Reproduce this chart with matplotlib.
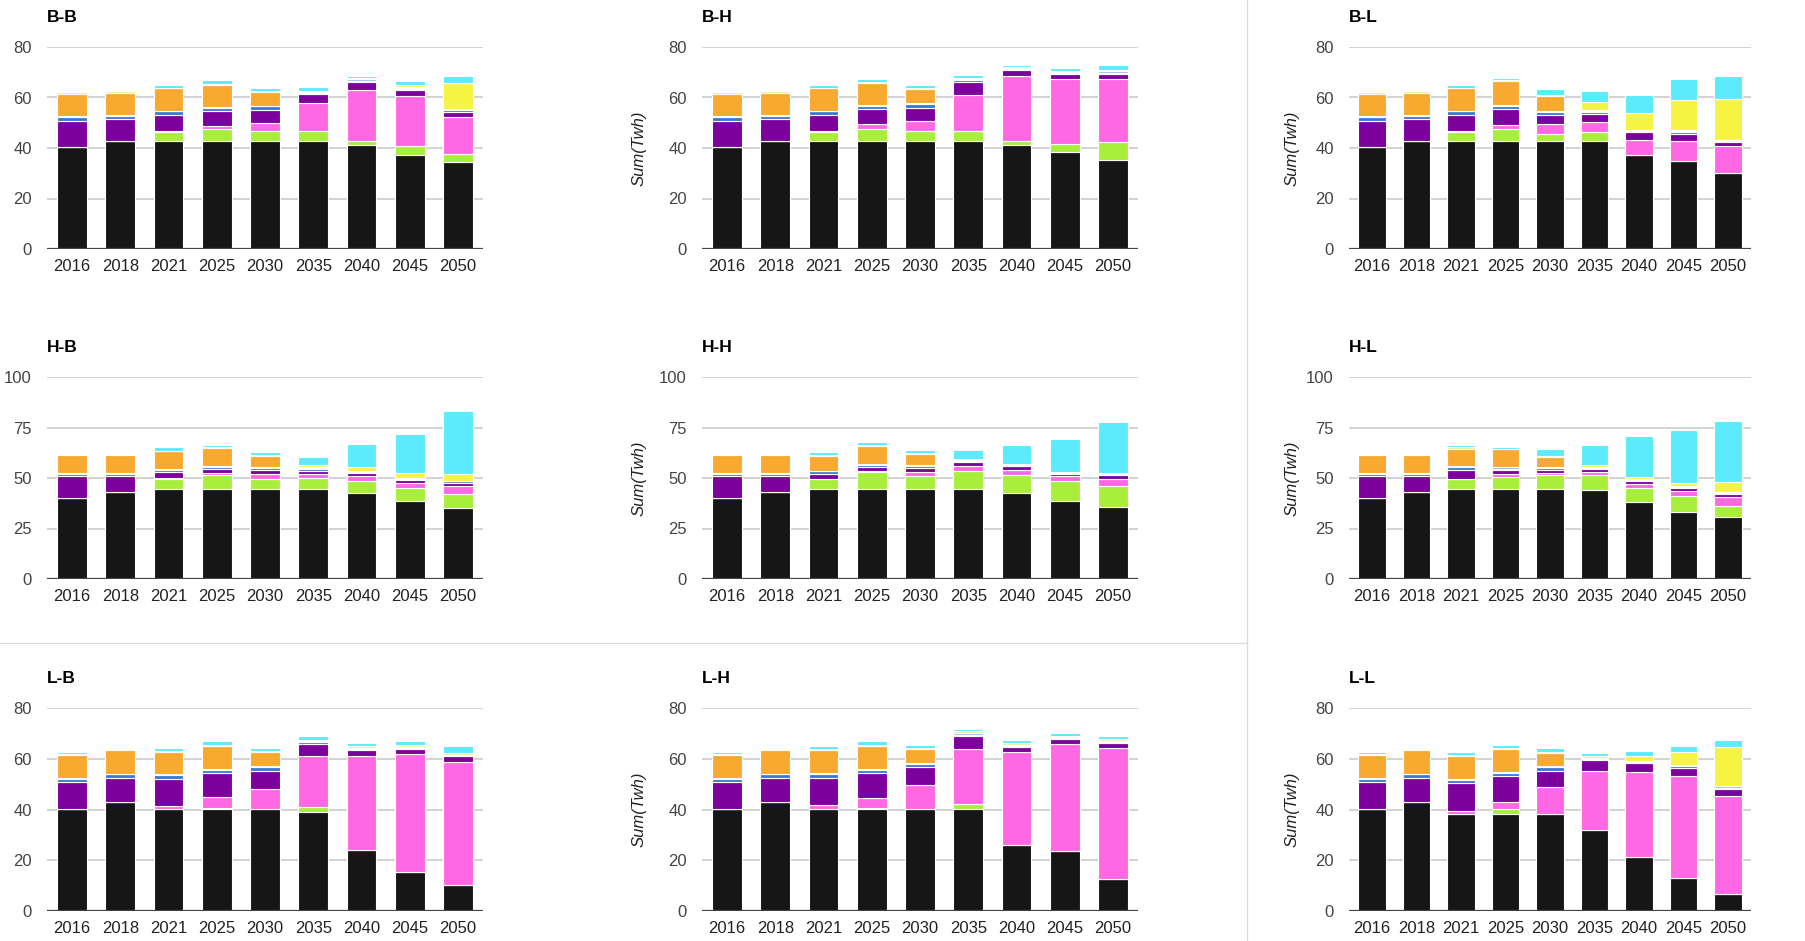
import matplotlib.pyplot as plt
import numpy as np

plt.rcParams["font.family"] = ["Liberation Sans", "DejaVu Sans"]

years = ["2016", "2018", "2021", "2025", "2030", "2035", "2040", "2045", "2050"]
layers = ["black", "lime", "pink", "purple", "blue", "lightblue", "orange", "pale", "yellow", "cyan"]
colors = ["#161616", "#a8ef3c", "#ff68e4", "#7b009c", "#3b78d6", "#9ab6e4", "#f7a930", "#eeeb98", "#f6f443", "#5cebfd"]

# each panel: one row per layer (bottom to top), one value per year (TWh)
BB = [
    [40.3, 42.9, 42.9, 42.9, 42.9, 42.9, 41.2, 37.4, 34.3],
    [0, 0, 3.4, 4.5, 4.0, 4.0, 1.7, 3.5, 3.5],
    [0, 0, 0.5, 1.3, 3.0, 10.9, 19.9, 19.7, 14.5],
    [10.5, 8.6, 6.4, 6.0, 5.3, 3.4, 3.3, 2.2, 2.1],
    [1.3, 1.2, 1.3, 1.3, 1.3, 0.6, 0.6, 0.5, 0.6],
    [0.4, 0.4, 0.3, 0.4, 0.3, 0.5, 0.5, 0.5, 0.3],
    [9.0, 8.8, 8.8, 8.5, 5.5, 0, 0, 0, 0],
    [0.5, 0.5, 0.3, 0.4, 0.4, 0.4, 0.5, 0.4, 0],
    [0, 0, 0, 0, 0, 0, 0, 0.6, 10.4],
    [0.6, 0.4, 1.2, 1.8, 1.2, 1.3, 1.0, 1.6, 2.7],
]
BH = [
    [40.3, 42.9, 42.9, 42.9, 42.9, 42.9, 41.2, 38.4, 35.4],
    [0, 0, 3.4, 4.5, 4.0, 4.0, 1.7, 3.1, 7.0],
    [0, 0, 0.5, 2.1, 3.7, 14.0, 25.7, 26.0, 25.1],
    [10.5, 8.6, 6.4, 5.8, 5.4, 5.4, 2.2, 1.7, 1.8],
    [1.3, 1.2, 1.3, 1.3, 1.3, 0.5, 0.4, 0.4, 0.6],
    [0.4, 0.4, 0.3, 0.3, 0.4, 0.5, 0.4, 0.4, 0.5],
    [9.0, 8.8, 8.8, 9.0, 5.8, 0, 0, 0, 0],
    [0.5, 0.5, 0.3, 0.4, 0.3, 0.6, 0.5, 0.5, 0.4],
    [0, 0, 0, 0, 0, 0, 0, 0, 0],
    [0.6, 0.4, 1.2, 1.1, 1.2, 1.1, 0.9, 1.3, 2.1],
]
BL = [
    [40.3, 42.9, 42.9, 42.9, 42.9, 42.9, 37.2, 35.0, 30.0],
    [0, 0, 3.4, 4.5, 2.8, 3.3, 0.2, 0, 0],
    [0, 0, 0.5, 1.6, 3.7, 4.0, 5.6, 7.6, 10.8],
    [10.5, 8.6, 6.4, 6.6, 3.8, 3.4, 3.3, 3.1, 1.4],
    [1.3, 1.2, 1.3, 1.2, 1.2, 0.6, 0.5, 0.6, 0.6],
    [0.4, 0.4, 0.3, 0.3, 0.3, 0.4, 0.3, 0.3, 0.4],
    [9.0, 8.8, 8.8, 9.3, 5.9, 0, 0, 0, 0],
    [0.5, 0.5, 0.3, 0.4, 0.4, 0.4, 0, 0.4, 0],
    [0, 0, 0, 0, 0, 3.3, 6.8, 12.1, 16.3],
    [0.6, 0.4, 1.2, 1.1, 2.2, 4.4, 7.1, 8.1, 8.9],
]
HB = [
    [40.3, 43.1, 44.6, 44.6, 44.6, 44.6, 42.4, 38.8, 35.0],
    [0, 0, 4.9, 7.0, 4.9, 5.4, 6.1, 6.2, 6.9],
    [0, 0, 0.4, 0.7, 2.3, 1.8, 2.7, 2.7, 4.1],
    [10.5, 7.7, 3.1, 2.2, 2.0, 1.7, 1.3, 1.5, 1.7],
    [1.3, 1.2, 1.2, 0.9, 1.2, 1.0, 0.6, 0.5, 0.6],
    [0.4, 0.5, 0.5, 0.5, 0.4, 0.5, 0.4, 0.4, 0.4],
    [9.0, 8.8, 8.5, 8.9, 5.5, 0, 0, 0, 0],
    [0.5, 0.5, 0.4, 0.3, 0.4, 0.5, 0, 0, 0],
    [0, 0, 0, 0, 0, 0.8, 1.8, 2.2, 3.4],
    [0.6, 0.7, 1.6, 1.2, 1.4, 4.3, 11.7, 19.6, 31.2],
]
HH = [
    [40.3, 43.1, 44.6, 44.6, 44.6, 44.6, 42.4, 38.8, 35.6],
    [0, 0, 4.9, 8.4, 6.2, 8.9, 9.1, 9.7, 10.3],
    [0, 0, 0, 0.3, 2.2, 2.4, 2.3, 2.3, 3.4],
    [10.5, 7.7, 2.6, 2.1, 2.0, 2.2, 2.0, 1.3, 2.2],
    [1.3, 1.2, 1.2, 1.2, 1.0, 0.3, 0.3, 0.3, 0.3],
    [0.4, 0.5, 0.4, 0.5, 0.6, 0.3, 0.3, 0.3, 0.3],
    [9.0, 8.8, 7.2, 8.8, 5.4, 0, 0, 0, 0],
    [0.5, 0.5, 0.4, 0.3, 0.3, 0.5, 0.4, 0.4, 0.6],
    [0, 0, 0, 0, 0, 0, 0, 0, 0],
    [0.6, 0.7, 1.6, 1.4, 1.4, 4.5, 9.5, 16.2, 25.1],
]
HL = [
    [40.3, 43.1, 44.6, 44.6, 44.6, 43.9, 38.1, 33.0, 30.7],
    [0, 0, 4.9, 5.9, 6.7, 7.4, 6.9, 7.9, 5.4],
    [0, 0, 0, 1.6, 1.2, 1.7, 2.2, 2.5, 4.5],
    [10.5, 7.7, 4.6, 1.7, 1.3, 1.5, 1.3, 1.6, 1.5],
    [1.3, 1.2, 1.2, 0.9, 1.2, 0.6, 0.6, 0.6, 0.6],
    [0.4, 0.5, 0.4, 0.5, 0.5, 0.4, 0.4, 0.4, 0.4],
    [9.0, 8.8, 8.9, 9.0, 5.0, 0, 0, 0, 0],
    [0.5, 0.5, 0.5, 0.3, 0.4, 0, 0, 0, 0],
    [0, 0, 0, 0, 0, 1.0, 1.0, 1.5, 4.9],
    [0.6, 0.7, 1.2, 1.0, 3.6, 9.8, 20.1, 26.1, 30.4],
]
LB = [
    [40.3, 43.0, 40.1, 40.1, 40.1, 38.9, 24.2, 15.4, 10.1],
    [0, 0, 0, 0.6, 0, 1.9, 0, 0, 0],
    [0, 0, 1.3, 4.1, 8.0, 20.1, 36.9, 46.4, 48.7],
    [10.5, 9.4, 10.8, 9.5, 7.2, 5.1, 2.3, 2.1, 2.2],
    [1.3, 1.4, 1.2, 1.2, 1.3, 0.5, 0.5, 0.4, 0.3],
    [0.4, 0.3, 0.4, 0.4, 0.4, 0.4, 0.4, 0.3, 0.3],
    [9.0, 9.2, 9.0, 9.2, 5.8, 0, 0, 0, 0],
    [0.5, 0.4, 0.4, 0.4, 0.4, 0.4, 0.8, 0.8, 0.5],
    [0, 0, 0, 0, 0, 0, 0, 0, 0],
    [0.6, 0.3, 1.2, 1.3, 1.2, 1.7, 1.0, 1.4, 2.8],
]
LH = [
    [40.3, 43.0, 40.1, 40.1, 40.1, 40.1, 26.1, 23.8, 12.7],
    [0, 0, 0.2, 0.6, 0, 2.1, 0, 0, 0],
    [0, 0, 1.5, 3.9, 9.6, 21.6, 36.5, 41.9, 51.7],
    [10.5, 9.4, 10.8, 9.8, 7.0, 5.2, 2.0, 2.0, 1.9],
    [1.3, 1.4, 1.4, 1.2, 1.3, 0.5, 0.5, 0.4, 0.4],
    [0.4, 0.3, 0.4, 0.4, 0.4, 0.5, 0.4, 0.4, 0.4],
    [9.0, 9.2, 8.9, 9.2, 5.6, 0, 0, 0, 0],
    [0.5, 0.4, 0.4, 0.4, 0.3, 0.8, 0.7, 0.6, 0.6],
    [0, 0, 0, 0, 0, 0, 0, 0, 0],
    [0.6, 0.3, 1.2, 1.2, 1.3, 1.0, 1.1, 1.0, 1.3],
]
LL = [
    [40.3, 43.0, 38.2, 38.2, 38.2, 32.1, 21.3, 12.9, 6.6],
    [0, 0, 0, 1.9, 0, 0, 0, 0, 0],
    [0, 0, 1.3, 3.0, 10.8, 23.2, 33.6, 40.3, 38.7],
    [10.5, 9.4, 10.8, 10.1, 6.3, 4.3, 3.3, 3.3, 2.7],
    [1.3, 1.4, 1.3, 1.2, 1.3, 0.4, 0.5, 0.6, 0.6],
    [0.4, 0.3, 0.4, 0.4, 0.4, 0.4, 0.4, 0.4, 0.5],
    [9.0, 9.2, 9.1, 9.1, 5.2, 0, 0, 0, 0],
    [0.5, 0.4, 0.3, 0.3, 0.4, 0.5, 0, 0, 0],
    [0, 0, 0, 0, 0, 0, 1.9, 5.3, 15.5],
    [0.6, 0.5, 1.4, 1.3, 1.8, 1.3, 2.2, 2.3, 2.6],
]

panels = [["B-B", "B-H", "B-L"], ["H-B", "H-H", "H-L"], ["L-B", "L-H", "L-L"]]
panel_data = {"B-B": BB, "B-H": BH, "B-L": BL, "H-B": HB, "H-H": HH, "H-L": HL,
              "L-B": LB, "L-H": LH, "L-L": LL}
row_ymax = [80, 100, 80]
row_ticks = [[0, 20, 40, 60, 80], [0, 25, 50, 75, 100], [0, 20, 40, 60, 80]]

W, H = 1806, 941
fig = plt.figure(figsize=(W / 100, H / 100), dpi=100)

# layout in pixels
col_left = [47, 702, 1349]
col_width = [436, 436, 402]
row_zero = [249, 579, 911]
row_height = [202, 202, 203]

x = np.arange(len(years))
for r in range(3):
    for c in range(3):
        name = panels[r][c]
        data = panel_data[name]
        ax = fig.add_axes([col_left[c] / W, (H - row_zero[r]) / H,
                           col_width[c] / W, row_height[r] / H])
        bottom = np.zeros(len(years))
        for vals, col in zip(data, colors):
            vals = np.array(vals, dtype=float)
            ax.bar(x, vals, 0.62, bottom=bottom, color=col, edgecolor="white",
                   linewidth=0.8, zorder=2)
            bottom += vals
        ax.set_xlim(-0.52, 8.52)
        ax.set_ylim(0, row_ymax[r])
        ax.set_yticks(row_ticks[r])
        ax.set_xticks(x)
        ax.set_xticklabels(years)
        ax.grid(axis="y", color="#cccccc", linewidth=1.2, zorder=0)
        ax.axhline(0, color="#444444", linewidth=1.6, zorder=3)
        for s in ax.spines.values():
            s.set_visible(False)
        ax.tick_params(axis="y", length=0, pad=11, labelsize=12, labelcolor="#444444")
        ax.tick_params(axis="x", length=0, pad=7, labelsize=12, labelcolor="#222222")
        ax.set_title(name, loc="left", fontsize=12.5, fontweight="bold", pad=18)
        if c > 0:
            lx = [0, 639, 1292][c]
            fig.text(lx / W, 1 - (row_zero[r] - row_height[r] / 2) / H, "Sum(Twh)",
                     rotation=90, ha="center", va="center", style="italic",
                     fontsize=12, color="#222222")

# panel separators
fig.add_artist(plt.Line2D([1247 / W, 1247 / W], [0, 1], color="#dddddd", linewidth=1))
fig.add_artist(plt.Line2D([0, 1247 / W], [1 - 643 / H, 1 - 643 / H], color="#dddddd", linewidth=1))

fig.savefig("out.png", dpi=100)
